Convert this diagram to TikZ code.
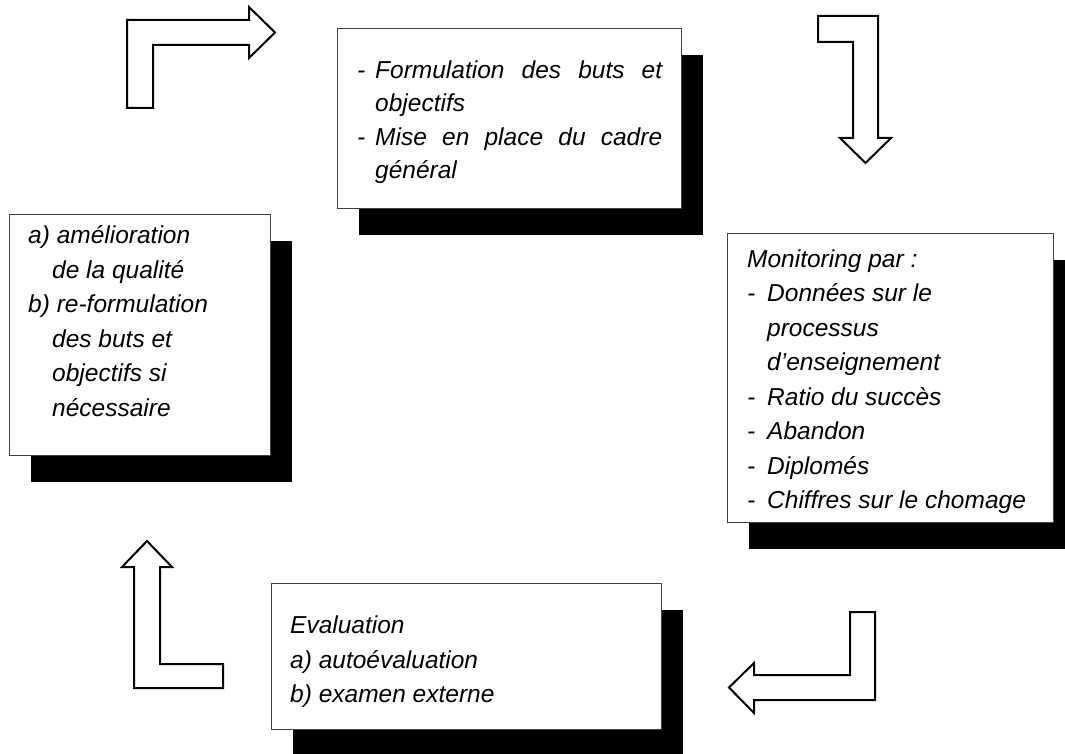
\documentclass[tikz,border=0pt]{standalone}
\usepackage{fontspec}
\setmainfont{Liberation Sans}
\usetikzlibrary{shadows}
\newcommand{\tiret}[1]{\makebox[#1][l]{-}}
\newcommand{\retrait}[1]{\hspace*{#1}}

\begin{document}
\begin{tikzpicture}[x=1pt,y=-1pt,
	card/.style={draw=black!75, line width=0.9pt, fill=white, anchor=north west, inner sep=0pt,
		drop shadow={shadow xshift=22pt, shadow yshift=-26.5pt, fill=black, opacity=1}},
	txt/.style={anchor=north west, inner sep=0pt, align=left, font=\fontsize{24.5}{34.5}\selectfont\itshape},
	blockarrow/.style={draw=black, line width=2pt, fill=white, line join=miter}]
	\useasboundingbox (0,0) rectangle (1065,754);
	\node[card, minimum width=344pt, minimum height=180pt] (goals) at (337,28) {};
	\node[card, minimum width=261pt, minimum height=241pt] (review) at (9,214) {};
	\node[card, minimum width=326pt, minimum height=289pt] (monitor) at (727,233) {};
	\node[card, minimum width=390pt, minimum height=146pt] (evaluation) at (271,583) {};
	%
	\node[txt, font=\fontsize{24.5}{33.3}\selectfont\itshape] (goalstext) at ([shift={(20,32.7)}]goals.north west)
		{\tiret{18pt}\makebox[287pt][s]{Formulation des buts et}\\ \retrait{18pt}objectifs\\
		 \tiret{18pt}\makebox[287pt][s]{Mise en place du cadre}\\ \retrait{18pt}général};
	\node[txt] (reviewtext) at ([shift={(19,11.7)}]review.north west)
		{a) amélioration\\ \retrait{24pt}de la qualité\\ b) re-formulation\\
		 \retrait{24pt}des buts et\\ \retrait{24pt}objectifs si\\ \retrait{24pt}nécessaire};
	\node[txt] (monitortext) at ([shift={(20,16.4)}]monitor.north west)
		{Monitoring par :\\ \tiret{20pt}Données sur le\\ \retrait{20pt}processus\\
		 \retrait{20pt}d’enseignement\\ \tiret{20pt}Ratio du succès\\ \tiret{20pt}Abandon\\
		 \tiret{20pt}Diplomés\\ \tiret{20pt}Chiffres sur le chomage};
	\node[txt] (evaluationtext) at ([shift={(19,32.7)}]evaluation.north west)
		{Evaluation\\ a) autoévaluation\\ b) examen externe};
	%
	\draw[blockarrow] (127,108) -- (127,20) -- (249,20) -- (249,7) -- (275,32.5) -- (249,58)
		-- (249,45) -- (153,45) -- (153,108) -- cycle;
	\draw[blockarrow] (818,16) -- (878,16) -- (878,138) -- (891,138) -- (865.5,163) -- (840,138)
		-- (853,138) -- (853,42) -- (818,42) -- cycle;
	\draw[blockarrow] (875,612) -- (875,700) -- (754,700) -- (754,713) -- (729,687.5) -- (754,663)
		-- (754,675) -- (850,675) -- (850,612) -- cycle;
	\draw[blockarrow] (223,688) -- (134,688) -- (134,567) -- (122,567) -- (147,541) -- (172,567)
		-- (160,567) -- (160,664) -- (223,664) -- cycle;
\end{tikzpicture}
\end{document}
